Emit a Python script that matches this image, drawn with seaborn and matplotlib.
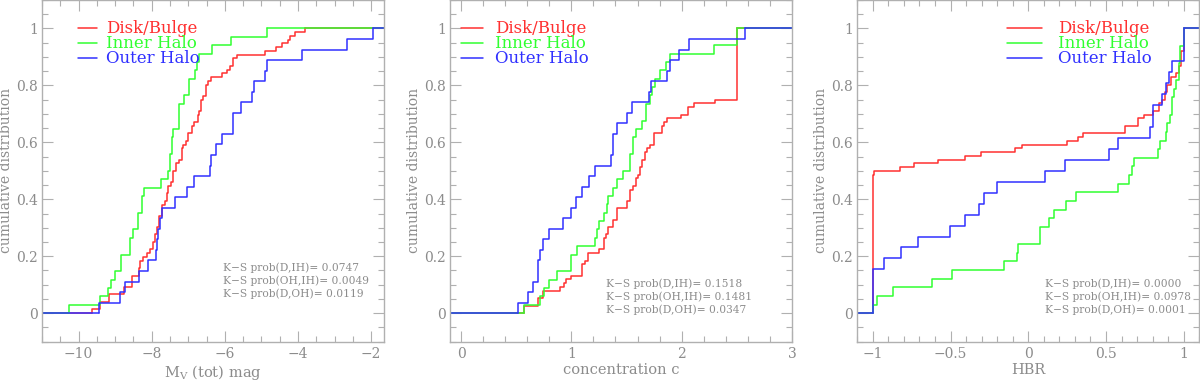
import numpy as np
import pandas as pd
import matplotlib
matplotlib.use("Agg")
import matplotlib.pyplot as plt
import seaborn as sns
from matplotlib.ticker import MultipleLocator, FuncFormatter

groups = ["Disk/Bulge", "Inner Halo", "Outer Halo"]
colors = ["#ff3030", "#30ff30", "#3030ff"]

# M_V (tot) samples
mv_disk = [-9.64, -9.41, -9.41, -9.18, -9.18, -8.77, -8.77, -8.55, -8.55, -8.55,
           -8.36, -8.36, -8.32, -8.32, -8.25, -8.14, -8.05, -7.97, -7.97, -7.91,
           -7.91, -7.86, -7.86, -7.79, -7.79, -7.79, -7.73, -7.73, -7.73, -7.65,
           -7.59, -7.59, -7.55, -7.55, -7.48, -7.41, -7.41, -7.41, -7.34, -7.34,
           -7.25, -7.18, -7.18, -7.18, -7.14, -7.05, -7.00, -7.00, -6.91, -6.91,
           -6.84, -6.73, -6.73, -6.70, -6.64, -6.64, -6.64, -6.59, -6.53, -6.53,
           -6.53, -6.45, -6.39, -6.09, -5.95, -5.86, -5.77, -5.77, -5.66, -4.91,
           -4.59, -4.45, -4.27, -4.23, -4.09, -3.82]
mv_inner = [-10.25, -9.42, -9.20, -9.10, -9.00, -8.85, -8.85, -8.60, -8.60, -8.50,
            -8.38, -8.38, -8.27, -8.27, -8.22, -7.75, -7.55, -7.50, -7.50, -7.45,
            -7.45, -7.41, -7.25, -7.25, -7.25, -7.11, -6.99, -6.99, -6.82, -6.75,
            -6.71, -6.35, -5.84, -4.84]
mv_outer = [-9.43, -8.86, -8.74, -8.36, -8.11, -7.89, -7.86, -7.82, -7.78, -7.71,
            -7.36, -7.03, -6.84, -6.41, -6.39, -6.23, -6.08, -5.77, -5.77, -5.57,
            -5.25, -5.21, -4.91, -4.84, -3.88, -2.65, -1.95]

# concentration c samples
c_disk = [0.575, 0.575, 0.70, 0.70, 0.747, 0.747, 0.898, 0.93, 0.95, 1.0,
          1.095, 1.10, 1.10, 1.12, 1.155, 1.155, 1.255, 1.30, 1.30, 1.30,
          1.315, 1.336, 1.336, 1.38, 1.38, 1.41, 1.41, 1.41, 1.50, 1.50,
          1.53, 1.53, 1.53, 1.563, 1.585, 1.585, 1.60, 1.62, 1.62, 1.64,
          1.64, 1.67, 1.67, 1.69, 1.715, 1.75, 1.75, 1.75, 1.82, 1.82,
          1.836, 1.866, 1.99, 2.06, 2.06, 2.11, 2.30, 2.5, 2.5, 2.5,
          2.5, 2.5, 2.5, 2.5, 2.5, 2.5, 2.5, 2.5, 2.5, 2.5,
          2.5, 2.5, 2.5, 2.5, 2.5, 2.5]
c_inner = [0.575, 0.72, 0.75, 0.80, 0.868, 1.0, 1.0, 1.05, 1.21, 1.23,
           1.255, 1.30, 1.32, 1.336, 1.38, 1.41, 1.467, 1.53, 1.53, 1.555,
           1.555, 1.59, 1.64, 1.675, 1.675, 1.71, 1.73, 1.76, 1.805, 1.857,
           1.89, 2.29, 2.5, 2.5]
c_outer = [0.52, 0.605, 0.656, 0.695, 0.695, 0.717, 0.74, 0.80, 0.928, 0.995,
           1.043, 1.10, 1.164, 1.21, 1.358, 1.373, 1.382, 1.41, 1.503, 1.55,
           1.70, 1.72, 1.866, 1.89, 1.98, 2.07, 2.576]

# HBR samples
hbr_disk = [-1.0] * 37 + [
    -0.99, -0.822, -0.732, -0.582, -0.404, -0.303, -0.083, -0.04, 0.248, 0.318,
    0.35, 0.619, 0.619, 0.704, 0.704, 0.747, 0.805, 0.839, 0.839, 0.861,
    0.88, 0.88, 0.891, 0.891, 0.919, 0.919, 0.951, 0.972, 0.972, 0.983,
    0.983, 0.983, 0.983, 1.0, 1.0, 1.0, 1.0, 1.0, 1.0]
hbr_inner = [-1.0, -0.974, -0.871, -0.618, -0.492, -0.153, -0.074, -0.063, 0.076, 0.076,
             0.136, 0.168, 0.243, 0.308, 0.576, 0.646, 0.668, 0.683, 0.833, 0.85,
             0.886, 0.893, 0.912, 0.925, 0.925, 0.936, 0.95, 0.968, 0.968, 0.979,
             0.979, 1.0, 1.0]
hbr_outer = [-1.0, -1.0, -1.0, -1.0, -0.931, -0.818, -0.711, -0.501, -0.404, -0.32,
             -0.282, -0.2, 0.108, 0.237, 0.518, 0.576, 0.786, 0.805, 0.805, 0.861,
             0.886, 0.908, 0.925, 1.0, 1.0, 1.0]

ks_labels = ["K\u2212S prob(D,IH)=", "K\u2212S prob(OH,IH)=", "K\u2212S prob(D,OH)="]
ks_mv = [0.0747, 0.0049, 0.0119]
ks_c = [0.1518, 0.1481, 0.0347]
ks_hbr = [0.0000, 0.0978, 0.0001]

xlabels = ["M$_{\\rm V}$ (tot) mag", "concentration c", "HBR"]

sns.set_theme(style="ticks")
plt.rcParams["font.family"] = ["DejaVu Serif"]
plt.rcParams["mathtext.fontset"] = "dejavuserif"
grey = "#8c8c8c"
spine = "#b0b0b0"

fig = plt.figure(figsize=(12, 3.8), dpi=100)
lefts = [0.035, 0.375, 0.7144]
axes = [fig.add_axes([l, 0.101, 0.285, 0.899]) for l in lefts]

panels = [
    (mv_disk, mv_inner, mv_outer, ks_mv, (-11, -1.65), 2, 0.5, "upper left"),
    (c_disk, c_inner, c_outer, ks_c, (-0.1, 3.0), 1, 0.2, "upper left"),
    (hbr_disk, hbr_inner, hbr_outer, ks_hbr, (-1.1, 1.1), 0.5, 0.1, "upper right"),
]
ks_pos = [(0.53, 0.232), (0.455, 0.186), (0.549, 0.186)]
leg_anchor = [(0.105, 0.94), (0.033, 0.94), (0.862, 0.94)]
leg_handle = [1.15, 1.3, 2.1]
leg_pad = [0.55, 0.7, 1.0]

for i, (ax, (d, ih, oh, ks, xl, maj, mnr, loc)) in enumerate(zip(axes, panels)):
    df = pd.concat([pd.DataFrame({"val": v, "grp": g}) for v, g in zip([d, ih, oh], groups)])
    for g, col in zip(groups, colors):
        vals = df.loc[df.grp == g, "val"]
        sns.ecdfplot(x=vals, ax=ax, color=col, lw=1.1, label=g)
        # flat tails of the cumulative curve out to the frame
        ax.plot([xl[0], vals.min()], [0, 0], color=col, lw=1.1)
        ax.plot([vals.max(), xl[1]], [1, 1], color=col, lw=1.1)
    ax.set_xlim(*xl)
    ax.set_ylim(-0.1, 1.1)
    ax.xaxis.set_major_locator(MultipleLocator(maj))
    ax.xaxis.set_minor_locator(MultipleLocator(mnr))
    ax.yaxis.set_major_locator(MultipleLocator(0.2))
    ax.yaxis.set_minor_locator(MultipleLocator(0.05))
    ax.xaxis.set_major_formatter(FuncFormatter(lambda v, p: f"{v:g}".replace("-", "\u2212")))
    ax.yaxis.set_major_formatter(FuncFormatter(lambda v, p: f"{v:g}"))
    ax.tick_params(which="both", direction="in", top=True, right=True, colors=spine,
                   labelcolor=grey, labelsize=10, pad=4)
    ax.tick_params(axis="y", pad=3)
    ax.tick_params(which="major", length=8, width=0.8)
    ax.tick_params(which="minor", length=4, width=0.8)
    for s in ax.spines.values():
        s.set_color(spine)
        s.set_linewidth(1.0)
    ax.set_xlabel(xlabels[i], color=grey, fontsize=10.5, labelpad=1)
    ax.set_ylabel("cumulative distribution", color=grey, fontsize=10, labelpad=2)
    ax.legend(loc=loc, bbox_to_anchor=leg_anchor[i], frameon=False, fontsize=12,
              labelcolor="linecolor", handlelength=leg_handle[i], handletextpad=leg_pad[i],
              labelspacing=-0.12, borderpad=0.0, borderaxespad=0.0)
    ktxt = "\n".join(f"{lab} {v:.4f}" for lab, v in zip(ks_labels, ks))
    ax.text(*ks_pos[i], ktxt, transform=ax.transAxes, color=grey, fontsize=7.7,
            va="top", ha="left", linespacing=1.3)

fig.savefig("out.png", dpi=100)
